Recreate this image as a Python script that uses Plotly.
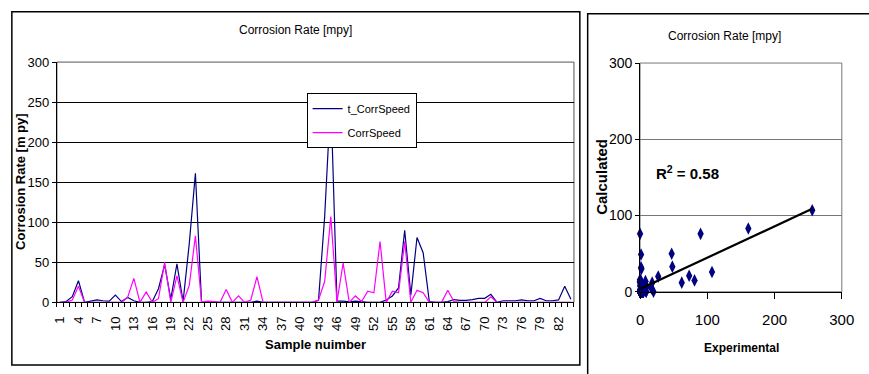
import numpy as np
import plotly.graph_objects as go

# ---------------- data ----------------
samples = list(range(1, 85))
t_corr_speed = [0, 1, 7, 27, 0, 1.5, 3, 2, 1.5, 9,
                1, 6, 2, 0, 0, 1, 17, 47, 4, 48,
                1, 73, 161, 0, 0, 0, 0, 0, 0, 0,
                0, 0, 1.5, 0, 0, 0, 0, 0, 0, 0,
                0, 0, 2.5, 107, 256, 1.5, 1.5, 0.5, 1.5, 0.5,
                0, 0, 0, 3, 8, 18, 90, 9, 81, 62,
                1, 0, 0, 1, 3.5, 2.5, 2.5, 3.5, 5, 5,
                10, 0, 2, 2, 2, 3, 2, 2, 5, 2,
                2, 3, 20, 4]
corr_speed = [0, 0, 3, 20, 0, 0, 0, 0, 0, 0,
              0, 6.5, 30, 0, 13, 0, 4.5, 50, 0, 33,
              0, 21, 83, 0, 1.5, 1, 0, 16, 0, 8,
              0, 3, 32, 0, 0, 0, 0, 0, 0, 0,
              0, 0, 3, 26, 107, 0.5, 49, 0, 8, 1,
              14, 12, 76, 0, 14, 12, 76, 0, 15, 12,
              0, 0, 0, 15, 1, 0, 0, 0, 0, 0,
              7, 0, 0, 0, 0, 0, 0, 0, 0, 0,
              0, 0, 0, 0]
x_tick_vals = list(range(1, 84, 3))
x_tick_text = [str(v) for v in x_tick_vals]
y_ticks_left = [0, 50, 100, 150, 200, 250, 300]
ticks_right = [0, 100, 200, 300]
r2_text = "R<sup>2</sup> = 0.58"

# ---------------- helpers ----------------
W, H = 869, 374
def px(x):
    return x / W
def py(y):
    return 1 - y / H

NARROW = "Liberation Sans Narrow, Arial Narrow, Liberation Sans, Arial"
REG = "Liberation Sans, Arial"
NAVY = "#000080"
MAG = "#FF00FF"

fig = go.Figure()

fig.add_trace(go.Scatter(x=samples, y=t_corr_speed, mode="lines", name="t_CorrSpeed",
                         line=dict(color=NAVY, width=1.2), legendgroup="a",
                         xaxis="x", yaxis="y"))
fig.add_trace(go.Scatter(x=samples, y=corr_speed, mode="lines", name="CorrSpeed",
                         line=dict(color=MAG, width=1.2), legendgroup="b",
                         xaxis="x", yaxis="y"))

# scatter: experimental vs calculated
fig.add_trace(go.Scatter(x=t_corr_speed, y=corr_speed, mode="markers", showlegend=False,
                         marker=dict(symbol="diamond-tall", size=9, color=NAVY),
                         cliponaxis=False, xaxis="x2", yaxis="y2"))
slope, intercept = np.polyfit(t_corr_speed, corr_speed, 1)
xs = np.array([min(t_corr_speed), max(t_corr_speed)])
fig.add_trace(go.Scatter(x=xs, y=slope * xs + intercept, mode="lines", showlegend=False,
                         line=dict(color="black", width=2.2), cliponaxis=False,
                         xaxis="x2", yaxis="y2"))

fig.update_layout(
    width=W, height=H,
    margin=dict(l=0, r=0, t=0, b=0),
    paper_bgcolor="white", plot_bgcolor="white",
    font=dict(family=NARROW, size=13, color="black"),
    showlegend=True,
    legend=dict(x=px(308), y=py(89), xanchor="left", yanchor="top",
                bgcolor="white", bordercolor="black", borderwidth=1,
                font=dict(family=NARROW, size=11, color="black"),
                traceorder="grouped", tracegroupgap=5, itemwidth=30),
    xaxis=dict(domain=[px(53), px(581)], range=[0.5, 84.5], tickmode="array",
               tickvals=x_tick_vals, ticktext=x_tick_text, tickangle=-90,
               ticks="", ticklabelstandoff=8,
               tickfont=dict(family=REG, size=13),
               minor=dict(ticks="outside", ticklen=4, tickcolor="black", tick0=0.5, dtick=1),
               showgrid=False, zeroline=False, showline=True, linecolor="black", linewidth=1,
               anchor="y"),
    yaxis=dict(domain=[py(307.5), py(56.5)], range=[0, 300], tickmode="array",
               tickvals=y_ticks_left, ticks="outside", ticklen=4, tickcolor="black",
               tickfont=dict(family=NARROW, size=13),
               showgrid=True, gridcolor="#000000", gridwidth=1, zeroline=False,
               showline=True, linecolor="black", linewidth=1, anchor="x"),
    xaxis2=dict(domain=[px(648.5), px(854.5)], range=[0, 300], tickmode="array",
                tickvals=ticks_right, ticks="outside", ticklen=6, tickcolor="black",
                tickfont=dict(family=NARROW, size=15), ticklabelstandoff=8,
                showgrid=False, zeroline=False, showline=True, linecolor="black",
                linewidth=1, anchor="y2"),
    yaxis2=dict(domain=[py(296.5), py(57.5)], range=[0, 300], tickmode="array",
                tickvals=ticks_right, ticks="outside", ticklen=4, tickcolor="black",
                tickfont=dict(family=NARROW, size=14),
                showgrid=True, gridcolor="#777777", gridwidth=1, zeroline=False,
                showline=True, linecolor="black", linewidth=1, anchor="x2"),
    shapes=[
        dict(type="rect", xref="x domain", yref="y domain", x0=0, x1=1, y0=0, y1=1,
             line=dict(color="#555555", width=1), layer="below"),
        dict(type="rect", xref="x2 domain", yref="y2 domain", x0=0, x1=1, y0=0, y1=1,
             line=dict(color="#777777", width=1), layer="below"),
        dict(type="rect", xref="paper", yref="paper", x0=px(7), x1=px(587),
             y0=py(373), y1=py(4), line=dict(color="black", width=1.5)),
        dict(type="rect", xref="paper", yref="paper", x0=px(595), x1=px(905),
             y0=py(395), y1=py(6), line=dict(color="black", width=1.5)),
    ],
    annotations=[
        dict(text="Corrosion Rate [mpy]", x=px(297), y=py(23), xref="paper", yref="paper",
             showarrow=False, font=dict(family=NARROW, size=12, color="black"),
             xanchor="center", yanchor="middle"),
        dict(text="<b>Corrosion Rate [m py]</b>", x=px(16), y=py(181), xref="paper",
             yref="paper", showarrow=False, textangle=-90,
             font=dict(family=REG, size=13, color="black"), xanchor="center", yanchor="middle"),
        dict(text="<b>Sample nuimber</b>", x=px(317), y=py(352), xref="paper", yref="paper",
             showarrow=False, font=dict(family=NARROW, size=13, color="black"),
             xanchor="center", yanchor="middle"),
        dict(text="Corrosion Rate [mpy]", x=px(735), y=py(29), xref="paper", yref="paper",
             showarrow=False, font=dict(family=NARROW, size=12, color="black"),
             xanchor="center", yanchor="middle"),
        dict(text="<b>Calculated</b>", x=px(609), y=py(176), xref="paper", yref="paper",
             showarrow=False, textangle=-90, font=dict(family=REG, size=15, color="black"),
             xanchor="center", yanchor="middle"),
        dict(text="<b>Experimental</b>", x=px(752), y=py(355), xref="paper", yref="paper",
             showarrow=False, font=dict(family=NARROW, size=12, color="black"),
             xanchor="center", yanchor="middle"),
        dict(text="<b>" + r2_text + "</b>", x=px(697), y=py(172), xref="paper", yref="paper",
             showarrow=False, font=dict(family=NARROW, size=15, color="black"),
             xanchor="center", yanchor="middle"),
    ],
)

fig.write_html("out.html")
